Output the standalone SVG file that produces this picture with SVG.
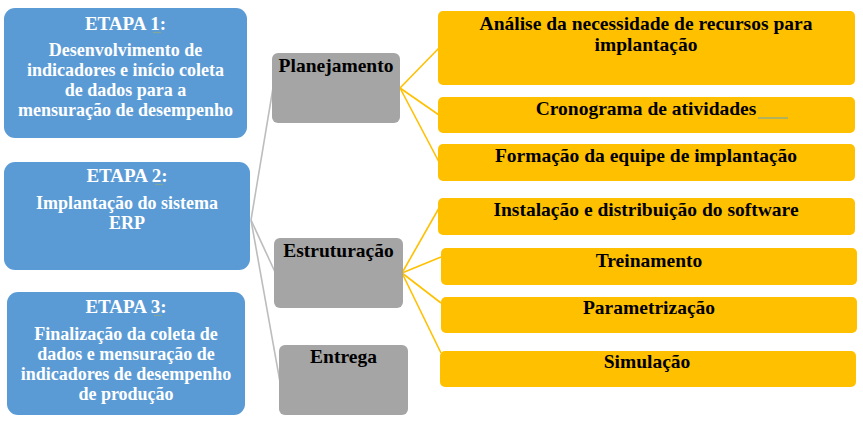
<svg xmlns="http://www.w3.org/2000/svg" width="863" height="424" viewBox="0 0 863 424">
<style>
text{font-family:"Liberation Serif","Times New Roman",serif;font-weight:bold;text-anchor:middle}
.blue{fill:#5B9BD5}
.gray{fill:#A5A5A5}
.yel{fill:#FFC000}
.wt{fill:#ffffff;font-size:18px}
.wh{fill:#ffffff;font-size:19px}
.bt{fill:#000000;font-size:19.5px}
.cg{stroke:#BDBDBD;stroke-width:1.6;fill:none}
.cy{stroke:#FFC000;stroke-width:1.6;fill:none}
.sq{stroke:#7FA89A;stroke-width:1.2}
</style>
<rect width="863" height="424" fill="#ffffff"/>
<g id="connectors">
<line class="cg" x1="251" y1="220" x2="273" y2="88"/>
<line class="cg" x1="251" y1="220" x2="275" y2="272"/>
<line class="cg" x1="251" y1="220" x2="280" y2="382"/>
<line class="cy" x1="400" y1="88" x2="439" y2="48"/>
<line class="cy" x1="400" y1="88" x2="439" y2="115"/>
<line class="cy" x1="400" y1="88" x2="439" y2="162"/>
<line class="cy" x1="402" y1="273" x2="439" y2="208"/>
<line class="cy" x1="402" y1="273" x2="441" y2="257"/>
<line class="cy" x1="402" y1="273" x2="441" y2="303"/>
<line class="cy" x1="402" y1="273" x2="441" y2="353"/>
</g>
<g id="etapa1">
<rect class="blue" x="4" y="8" width="243" height="130" rx="11"/>
<text class="wh" x="125.5" y="30">ETAPA 1:</text>
<line class="sq" x1="153" y1="32.5" x2="161" y2="32.5"/>
<text class="wt" x="125.5" y="55.5">Desenvolvimento de</text>
<text class="wt" x="125.5" y="75.5">indicadores e início coleta</text>
<text class="wt" x="125.5" y="95.5">de dados para a</text>
<text class="wt" x="125.5" y="115.5">mensuração de desempenho</text>
</g>
<g id="etapa2">
<rect class="blue" x="4" y="162" width="246" height="108" rx="11"/>
<text class="wh" x="127" y="182">ETAPA 2:</text>
<line class="sq" x1="155" y1="184.5" x2="163" y2="184.5"/>
<text class="wt" x="127" y="209">Implantação do sistema</text>
<text class="wt" x="127" y="229">ERP</text>
</g>
<g id="etapa3">
<rect class="blue" x="7" y="292" width="238" height="123" rx="11"/>
<text class="wh" x="126" y="313">ETAPA 3:</text>
<line class="sq" x1="154" y1="315.5" x2="162" y2="315.5"/>
<text class="wt" x="126" y="339.5">Finalização da coleta de</text>
<text class="wt" x="126" y="359.5">dados e mensuração de</text>
<text class="wt" x="126" y="379.5">indicadores de desempenho</text>
<text class="wt" x="126" y="399.5">de produção</text>
</g>
<g id="planejamento">
<rect class="gray" x="272" y="53" width="128" height="70" rx="6"/>
<text class="bt" x="336" y="72">Planejamento</text>
</g>
<g id="estruturacao">
<rect class="gray" x="274" y="238" width="129" height="70" rx="6"/>
<text class="bt" x="338.5" y="257">Estruturação</text>
</g>
<g id="entrega">
<rect class="gray" x="279" y="345" width="129" height="70" rx="6"/>
<text class="bt" x="343.5" y="363">Entrega</text>
</g>
<g id="analise">
<rect class="yel" x="438" y="11" width="417" height="74" rx="5"/>
<text class="bt" x="646" y="30">Análise da necessidade de recursos para</text>
<text class="bt" x="646" y="51">implantação</text>
</g>
<g id="cronograma">
<rect class="yel" x="438" y="97" width="417" height="36" rx="5"/>
<text class="bt" x="646" y="115">Cronograma de atividades</text>
<line class="sq" x1="758" y1="118" x2="788" y2="118"/>
</g>
<g id="formacao">
<rect class="yel" x="438" y="144" width="417" height="37" rx="5"/>
<text class="bt" x="646" y="162">Formação da equipe de implantação</text>
</g>
<g id="instalacao">
<rect class="yel" x="438" y="198" width="417" height="37" rx="5"/>
<text class="bt" x="646" y="216">Instalação e distribuição do software</text>
</g>
<g id="treinamento">
<rect class="yel" x="441" y="248" width="416" height="37" rx="5"/>
<text class="bt" x="649" y="267">Treinamento</text>
</g>
<g id="parametrizacao">
<rect class="yel" x="441" y="297" width="416" height="36" rx="5"/>
<text class="bt" x="649" y="314">Parametrização</text>
</g>
<g id="simulacao">
<rect class="yel" x="440" y="351" width="416" height="36" rx="5"/>
<text class="bt" x="647" y="368">Simulação</text>
</g>
</svg>
